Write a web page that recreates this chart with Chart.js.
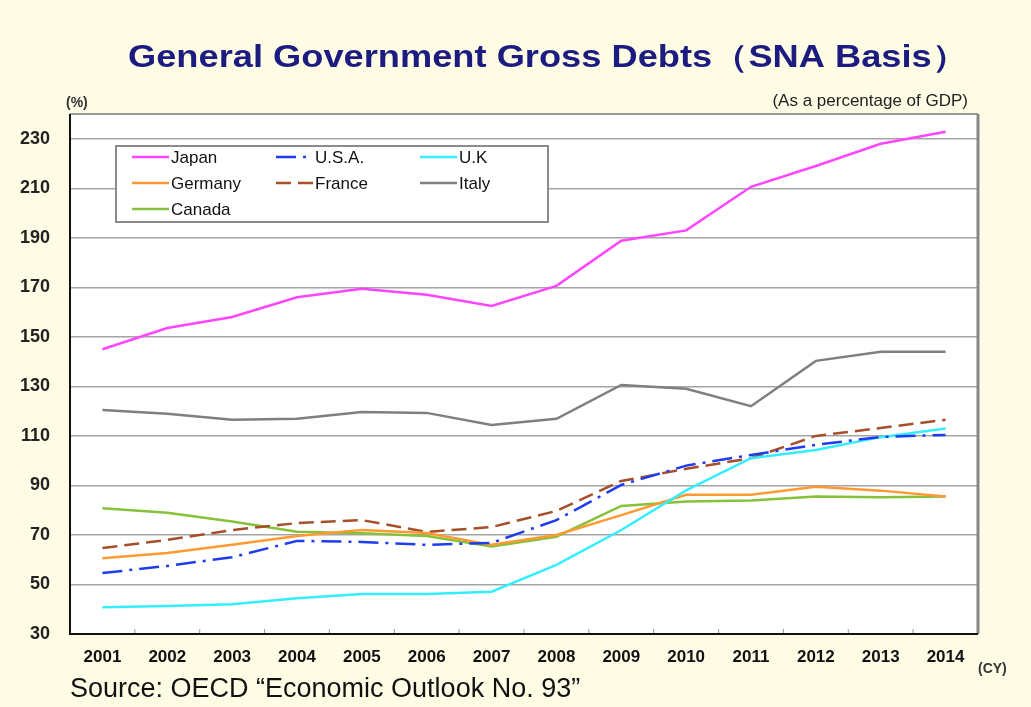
<!DOCTYPE html>
<html>
<head>
<meta charset="utf-8">
<script src="https://cdn.jsdelivr.net/npm/chart.js@4.4.1/dist/chart.umd.min.js"></script>
<style>
  body { margin: 0; background: #fffce6; }
  canvas { display: block; }
</style>
</head>
<body>
<canvas id="DebtChart" width="1031" height="707"></canvas>
<script>
// general government gross debts, % of GDP (OECD EO 93)

const years = ['2001', '2002', '2003', '2004', '2005', '2006', '2007', '2008', '2009', '2010', '2011', '2012', '2013', '2014'];
const yTicks = [30, 50, 70, 90, 110, 130, 150, 170, 190, 210, 230];

const japan = [145, 153.6, 158, 166, 169.4, 167, 162.5, 170.6, 188.8, 193, 210.6, 219, 228, 232.8];
const usa = [54.6, 57.5, 61, 67.6, 67.2, 66, 66.8, 76, 90.2, 98, 102.3, 106.4, 109.6, 110.4];
const uk = [40.8, 41.3, 42, 44.4, 46.2, 46.2, 47.1, 57.9, 72, 88, 101, 104.3, 109.5, 113];
const germany = [60.6, 62.7, 66, 69.6, 72, 70.8, 66, 70, 78, 86.2, 86.2, 89.5, 87.9, 85.5];
const france = [64.7, 68, 72, 74.8, 76, 71.2, 73.2, 79.7, 91.8, 96.7, 101, 110, 113.2, 116.5];
const italy = [120.5, 118.9, 116.5, 116.9, 119.7, 119.3, 114.4, 116.9, 130.6, 129, 122, 140.3, 144, 144];
const canada = [80.8, 79, 75.4, 71.3, 70.7, 69.6, 65.3, 69.3, 81.7, 83.5, 83.9, 85.5, 85.2, 85.5];

const bgCream = '#fffce6';
const gridGray = '#a4a4a4';
const titleText = 'General Government Gross Debts（SNA Basis）';

function series(label, data, color, dash) {
    return {
        label: label,
        data: data,
        borderColor: color,
        backgroundColor: color,
        borderWidth: 2.5,
        borderDash: dash || [],
        pointRadius: 0,
        tension: 0,
        fill: false
    };
}

// page background, plot area, texts
const decoPlugin = {
    id: 'deco',
    beforeDraw(chart) {
        const ctx = chart.ctx;
        const a = chart.chartArea;
        ctx.save();
        ctx.fillStyle = bgCream;
        ctx.fillRect(0, 0, chart.width, chart.height);
        ctx.fillStyle = '#ffffff';
        ctx.fillRect(a.left, a.top, a.right - a.left, a.bottom - a.top);

        // title is a bit stretched sideways in the original
        ctx.fillStyle = '#1b1b80';
        ctx.font = "bold 31px 'Liberation Sans', Arial, sans-serif";
        ctx.textAlign = 'left';
        ctx.textBaseline = 'alphabetic';
        const tw = ctx.measureText(titleText).width;
        const sx = 840 / tw;
        ctx.save();
        ctx.translate(128, 67);
        ctx.scale(sx, 1);
        ctx.fillText(titleText, 0, 0);
        ctx.restore();

        ctx.fillStyle = '#333';
        ctx.font = "bold 14px 'Liberation Sans', Arial, sans-serif";
        ctx.textAlign = 'left';
        ctx.fillText('(%)', 66, 107);
        ctx.fillText('(CY)', 978, 673);

        ctx.fillStyle = '#222';
        ctx.font = "17px 'Liberation Sans', Arial, sans-serif";
        ctx.textAlign = 'right';
        ctx.fillText('(As a percentage of GDP)', 968, 106);

        ctx.fillStyle = '#111';
        ctx.font = "27px 'Liberation Sans', Arial, sans-serif";
        ctx.textAlign = 'left';
        ctx.fillText('Source: OECD “Economic Outlook No. 93”', 70, 697);
        ctx.restore();
    },
    afterDatasetsDraw(chart) {
        const ctx = chart.ctx;
        const a = chart.chartArea;
        const xs = chart.scales.x;
        ctx.save();
        // small category ticks along the bottom
        ctx.strokeStyle = '#999';
        ctx.lineWidth = 1;
        for (let i = 1; i < years.length; i++) {
            const px = (xs.getPixelForValue(i - 1) + xs.getPixelForValue(i)) / 2;
            ctx.beginPath();
            ctx.moveTo(px, a.bottom);
            ctx.lineTo(px, a.bottom - 5);
            ctx.stroke();
        }
        // frame
        ctx.strokeStyle = '#9a9a9a';
        ctx.lineWidth = 2;
        ctx.beginPath();
        ctx.moveTo(a.left, a.top);
        ctx.lineTo(a.right, a.top);
        ctx.stroke();
        ctx.strokeStyle = '#888';
        ctx.lineWidth = 3;
        ctx.beginPath();
        ctx.moveTo(a.right, a.top);
        ctx.lineTo(a.right, a.bottom);
        ctx.stroke();
        ctx.strokeStyle = '#111';
        ctx.lineWidth = 2;
        ctx.beginPath();
        ctx.moveTo(a.left, a.top);
        ctx.lineTo(a.left, a.bottom);
        ctx.lineTo(a.right, a.bottom);
        ctx.stroke();

        // legend box inside the plot
        const bx = a.left + 46, by = a.top + 32, bw = 432, bh = 76;
        ctx.fillStyle = '#ffffff';
        ctx.fillRect(bx, by, bw, bh);
        ctx.strokeStyle = '#8c8c8c';
        ctx.lineWidth = 2;
        ctx.strokeRect(bx, by, bw, bh);

        ctx.font = "17px 'Liberation Sans', Arial, sans-serif";
        ctx.textAlign = 'left';
        ctx.textBaseline = 'middle';
        chart.data.datasets.forEach((ds, i) => {
            const col = i % 3, row = Math.floor(i / 3);
            const lx = bx + 16 + col * 144;
            const ly = by + 11 + row * 26;
            ctx.strokeStyle = ds.borderColor;
            ctx.lineWidth = 2.5;
            ctx.setLineDash(ds.borderDash);
            ctx.beginPath();
            ctx.moveTo(lx, ly);
            ctx.lineTo(lx + 37, ly);
            ctx.stroke();
            ctx.setLineDash([]);
            ctx.fillStyle = '#111';
            ctx.fillText(ds.label, lx + 39, ly + 1);
        });
        ctx.restore();
    }
};

const config = {
    type: 'line',
    data: {
        labels: years,
        datasets: [
            series('Japan', japan, '#ff45ff'),
            series('U.S.A.', usa, '#1f3cf0', [20, 7, 3, 7]),
            series('U.K', uk, '#33eeff'),
            series('Germany', germany, '#ff9a33'),
            series('France', france, '#a5502a', [15, 7]),
            series('Italy', italy, '#7f7f7f'),
            series('Canada', canada, '#86c13a')
        ]
    },
    options: {
        responsive: false,
        devicePixelRatio: 1,
        animation: false,
        layout: {
            padding: { top: 114, right: 53, left: 0, bottom: 0 }
        },
        plugins: {
            legend: { display: false },
            title: { display: false },
            tooltip: { enabled: false }
        },
        scales: {
            x: {
                offset: true,
                grid: { display: false, drawTicks: false },
                border: { display: false },
                ticks: {
                    color: '#111',
                    padding: 13,
                    maxRotation: 0,
                    autoSkip: false,
                    font: { family: "'Liberation Sans', Arial, sans-serif", size: 17, weight: 'bold' }
                },
                afterFit(scale) { scale.height = 73; }
            },
            y: {
                min: 30,
                max: 240,
                afterBuildTicks(scale) {
                    scale.ticks = yTicks.map(v => ({ value: v }));
                },
                grid: {
                    color: gridGray,
                    lineWidth: 1.5,
                    drawTicks: false
                },
                border: { display: false },
                ticks: {
                    color: '#222',
                    padding: 20,
                    font: { family: "'Liberation Sans', Arial, sans-serif", size: 18, weight: 'bold' }
                },
                afterFit(scale) { scale.width = 70; }
            }
        }
    },
    plugins: [decoPlugin]
};

const debtChart = new Chart(document.getElementById('DebtChart'), config);
</script>
</body>
</html>
